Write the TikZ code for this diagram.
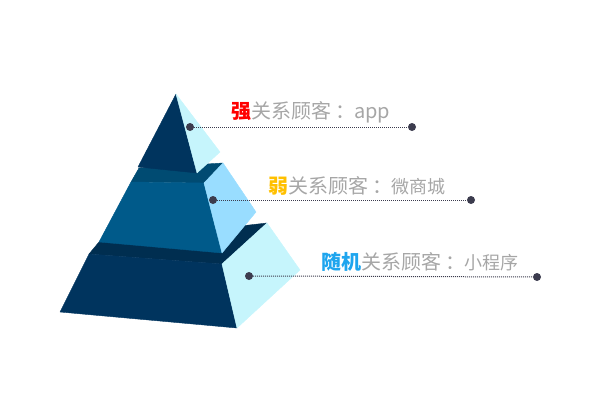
\documentclass[tikz,border=0pt]{standalone}
\usepackage{tkz-euclide}
\usepackage{fontspec}
\setmainfont{Noto Sans CJK SC}
\tikzset{>=stealth}
\definecolor{navy}{HTML}{00345E}
\definecolor{midfront}{HTML}{005A8A}
\definecolor{midtop}{HTML}{004B72}
\definecolor{basetop}{HTML}{002E50}
\definecolor{paleblue}{HTML}{99DDFF}
\definecolor{palecyan}{HTML}{C6F5FC}
\definecolor{dotgray}{HTML}{3C3C4E}
\definecolor{txtgray}{HTML}{A6A6A6}
\definecolor{ruoyellow}{HTML}{FFC000}
\definecolor{suiblue}{HTML}{1EA5EE}
\newcommand{\sep}{\kern4pt：\kern-1pt}
\tikzset{
  face/.style={fill=#1, draw=#1, line width=0.4pt, line join=round},
  lead/.style={dotgray, line width=1pt, dash pattern=on 1pt off 1pt},
  pin/.style={circle, fill=dotgray, inner sep=0pt, minimum size=8pt},
  label/.style={anchor=west, inner sep=0pt, text=txtgray, font=\fontsize{20}{20}\selectfont}
}

\begin{document}
\begin{tikzpicture}[x=1pt,y=1pt]
\useasboundingbox (0,0) rectangle (600,400);
\tkzDefPoints{89/146/B1, 222/136/B2, 237/72/B3, 60/88/B4, 99/158/B5, 267/177/B6, 300/130/B7}
\tkzDefPoints{131/218/M1, 204/217/M2, 222/147/M3, 99/158/M4, 139/232/M5, 223/237/M6, 256/188/M7}
\tkzDefPoints{176/306/A, 138/233/T1, 197/227/T2, 220/248/T3}
% bottom tier
\tkzDrawPolygon[face=basetop](B5,B6,B2,B1)
\tkzDrawPolygon[face=navy](B1,B2,B3,B4)
\tkzDrawPolygon[face=palecyan](B2,B6,B7,B3)
% middle tier
\tkzDrawPolygon[face=midtop](M5,M6,M2,M1)
\tkzDrawPolygon[face=midfront](M1,M2,M3,M4)
\tkzDrawPolygon[face=paleblue](M2,M6,M7,M3)
% top tier
\tkzDrawPolygon[face=navy](A,T1,T2)
\tkzDrawPolygon[face=palecyan](A,T3,T2)
% leaders
\node[pin] (p1) at (190,273) {};
\node[pin] (q1) at (412,273) {};
\node[pin] (p2) at (213,200) {};
\node[pin] (q2) at (471,200) {};
\node[pin] (p3) at (249,124) {};
\node[pin] (q3) at (537,123) {};
\draw[lead] (p1) -- (q1);
\draw[lead] (p2) -- (q2);
\draw[lead] (p3) -- (q3);
\node[label] (t1) at (231,288) {\textcolor{red}{\bfseries 强}关系顾客\sep app};
\node[label] (t2) at (268,214) {\textcolor{ruoyellow}{\bfseries 弱}关系顾客\sep{\fontsize{18}{18}\selectfont 微商城}};
\node[label] (t3) at (321,138) {\textcolor{suiblue}{\bfseries 随机}关系顾客\sep{\fontsize{18}{18}\selectfont 小程序}};
\end{tikzpicture}
\end{document}
